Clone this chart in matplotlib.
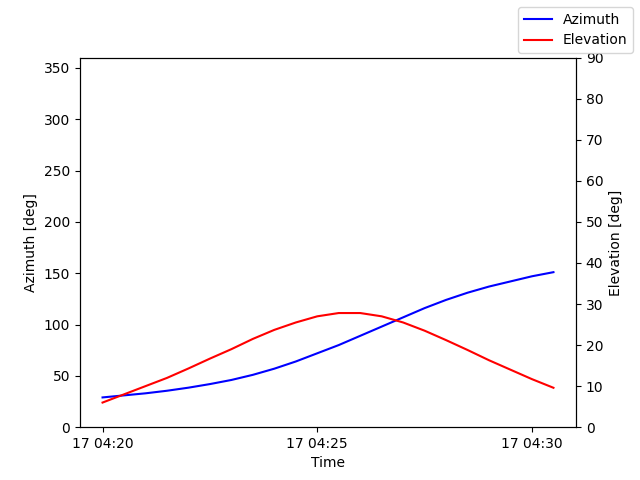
import matplotlib
matplotlib.use('Agg')
import matplotlib.pyplot as plt
import matplotlib.dates as mdates
import numpy as np
import pandas as pd

minutes = np.arange(0, 11, 0.5)
azimuth = [29, 31, 33, 35.5, 38.5, 42, 46, 51, 57, 64, 72, 80, 89, 98,
           107, 116, 124, 131, 137, 142, 147, 151]
elevation = [6, 8, 10, 12, 14.3, 16.7, 19, 21.5, 23.7, 25.5, 27, 27.8, 27.8,
             27, 25.5, 23.5, 21.2, 18.8, 16.3, 14, 11.7, 9.6]

times = pd.Timestamp('2024-01-17 04:20') + pd.to_timedelta(minutes, unit='min')

fig, ax = plt.subplots(figsize=(6.4, 4.8), dpi=100)
ax.plot(times, azimuth, color='blue', label='Azimuth')
ax.set_ylim(0, 360)
ax.set_ylabel('Azimuth [deg]')
ax.set_xlabel('Time')
ax.xaxis.set_major_locator(mdates.MinuteLocator(byminute=[20, 25, 30]))
ax.xaxis.set_major_formatter(mdates.DateFormatter('%d %H:%M'))

ax2 = ax.twinx()
ax2.plot(times, elevation, color='red', label='Elevation')
ax2.set_ylim(0, 90)
ax2.set_ylabel('Elevation [deg]')

fig.legend(loc='upper right')
fig.savefig('out.png')
